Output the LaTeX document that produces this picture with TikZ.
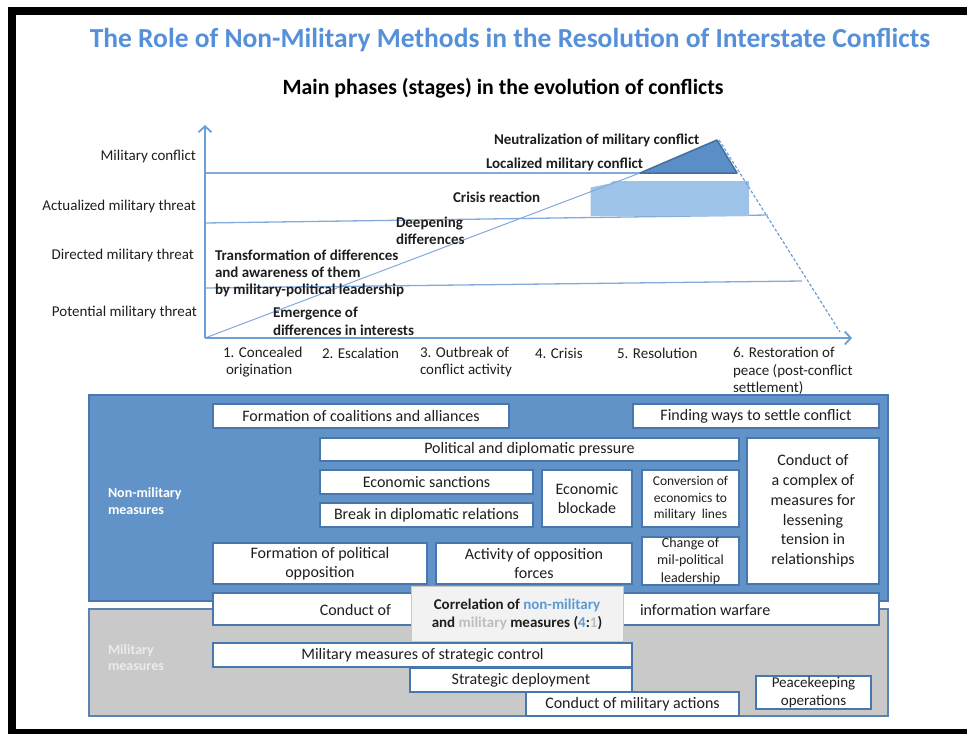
\documentclass[tikz,border=0pt]{standalone}
\usepackage{fontspec}
\setmainfont{Carlito}
\usetikzlibrary{arrows.meta}
\definecolor{titleblue}{HTML}{5590D8}
\definecolor{axisblue}{HTML}{6E9ED6}
\definecolor{lineblue}{HTML}{82AADB}
\definecolor{trifill}{HTML}{5B8EC6}
\definecolor{tridraw}{HTML}{41709F}
\definecolor{lightbox}{HTML}{9EC3E8}
\definecolor{nmfill}{HTML}{6193C9}
\definecolor{nmborder}{HTML}{4A78AE}
\definecolor{mfill}{HTML}{C9C9C9}
\definecolor{mborder}{HTML}{5B83B1}
\definecolor{boxblue}{HTML}{4877AE}
\definecolor{corrfill}{HTML}{F2F2F2}
\definecolor{corrborder}{HTML}{C8C8C8}
\definecolor{nmtext}{HTML}{5B9BD5}
\definecolor{mtext}{HTML}{BDBDBD}
\definecolor{txt}{HTML}{1E1E1E}
\tikzset{
  ylab/.style={anchor=east, font=\fontsize{15}{18}\selectfont, text=txt},
  clab/.style={anchor=west, align=left, font=\bfseries\fontsize{15}{17.4}\selectfont, text=txt},
  xlab/.style={anchor=west, align=left, font=\fontsize{15}{17.5}\selectfont, text=txt},
  hline/.style={draw=lineblue, line width=1.3pt},
  axisline/.style={draw=axisblue, line width=1.8pt},
  wbox/.style={draw=boxblue, line width=2pt, fill=white, align=center, font=\fontsize{16}{19.5}\selectfont, text=txt},
  biglab/.style={anchor=west, align=left, font=\bfseries\fontsize{14}{16.3}\selectfont},
  plain/.style={font=\fontsize{16}{19.5}\selectfont, text=txt}
}
\begin{document}
\begin{tikzpicture}[x=1pt,y=-1pt, every node/.style={inner sep=0pt, outer sep=0pt}]
\useasboundingbox (0,0) rectangle (967,734);
% frame
\fill[black] (8,7) rectangle (967,15);
\fill[black] (8,7) rectangle (16,734);
\fill[black] (8,729) rectangle (967,734);
% titles
\node[font=\bfseries\fontsize{27.5}{31}\selectfont, text=titleblue] (title) at (510,40) {The Role of Non-Military Methods in the Resolution of Interstate Conflicts};
\node[font=\bfseries\fontsize{21.8}{25}\selectfont, text=black] (sub) at (503,88) {Main phases (stages) in the evolution of conflicts};
% chart
\coordinate (O) at (205,338);
\coordinate (ytip) at (205,125);
\coordinate (xtip) at (852,338);
\coordinate (tl) at (640,173);
\coordinate (apex) at (717,140);
\coordinate (tr) at (737,173);
\draw[hline] (205,173) -- (tl);
\draw[hline] (205,223) -- (768,215);
\draw[hline] (205,288) -- (802,281);
\fill[lightbox] (590.5,216) -- (590.5,187.5) -- (610,183.5) -- (613,181) -- (749,181) -- (749,216) -- cycle;
\draw[draw=lineblue, line width=1pt] (O) -- (tl);
\filldraw[fill=trifill, draw=tridraw, line width=1.5pt, line join=round] (tl) -- (apex) -- (tr) -- cycle;
\draw[draw=axisblue, line width=1.2pt, dash pattern=on 3pt off 2pt] (719,140) -- (840,332);
\draw[axisline, -{Straight Barb[length=6pt,width=13pt]}] (O) -- (ytip);
\draw[axisline, -{Straight Barb[length=6pt,width=13pt]}] (O) -- (xtip);
% y labels
\node[ylab] (y1) at (196,156.5) {Military conflict};
\node[ylab] (y2) at (196,206) {Actualized military threat};
\node[ylab] (y3) at (194,255) {Directed military threat};
\node[ylab] (y4) at (197,312.5) {Potential military threat};
% chart labels
\node[clab] (c1) at (215,273.5) {Transformation of differences\\and awareness of them\\by military-political leadership};
\node[clab] (c2) at (273,321.5) {Emergence of\\differences in interests};
\node[clab] (c3) at (396,231) {Deepening\\differences};
\node[clab] (c4) at (453,197.5) {Crisis reaction};
\node[clab] (c5) at (486,164.5) {Localized military conflict};
\node[clab] (c6) at (494,140) {Neutralization of military conflict};
% x labels
\node[xlab] (x1) at (223,362) {1. Concealed\\\hspace*{3pt}origination};
\node[xlab] (x2) at (322,353.5) {2. Escalation};
\node[xlab] (x3) at (420,362) {3. Outbreak of\\conflict activity};
\node[xlab] (x4) at (535,353.5) {4. Crisis};
\node[xlab] (x5) at (617,353.5) {5. Resolution};
\node[xlab] (x6) at (733,371) {6. Restoration of\\peace (post-conflict\\settlement)};
% big areas
\node[draw=nmborder, line width=1.5pt, fill=nmfill, minimum width=799, minimum height=206] (nm) at (488.5,498) {};
\node[draw=mborder, line width=2pt, fill=mfill, minimum width=799, minimum height=107] (mil) at (488.5,662.5) {};
\node[biglab, text=white] (nmlab) at (108,501) {Non-military\\measures};
\node[biglab, text=white!92!black] (mlab) at (108,657.5) {Military\\measures};
% white boxes
\node[wbox, minimum width=296, minimum height=24] (coal) at (361,416) {Formation of coalitions and alliances};
\node[wbox, minimum width=246, minimum height=24] (find) at (756,416) {Finding ways to settle conflict};
\node[wbox, minimum width=419, minimum height=23] (pol) at (529.5,449.5) {Political and diplomatic pressure};
\node[wbox, minimum width=132, minimum height=146, font=\fontsize{16}{19.8}\selectfont] (cplx) at (813,511) {Conduct of\\a complex of\\measures for\\lessening\\tension in\\relationships};
\node[wbox, minimum width=213, minimum height=24] (econs) at (426.5,482) {Economic sanctions};
\node[wbox, minimum width=213, minimum height=24] (brk) at (426.5,515) {Break in diplomatic relations};
\node[wbox, minimum width=90, minimum height=57] (blk) at (587,498.5) {Economic\\blockade};
\node[wbox, minimum width=97, minimum height=57, font=\fontsize{13.5}{16.7}\selectfont] (conv) at (690.5,498.5) {Conversion of\\economics to\\military\ \ lines};
\node[wbox, minimum width=97, minimum height=48, font=\fontsize{14}{17.3}\selectfont] (chg) at (690.5,561) {Change of\\mil-political\\leadership};
\node[wbox, minimum width=214, minimum height=41] (fpo) at (320,563.5) {Formation of political\\opposition};
\node[wbox, minimum width=196, minimum height=41] (act) at (534,563.5) {Activity of opposition\\forces};
\node[wbox, minimum width=666, minimum height=32] (cinfo) at (546,609) {};
\node[plain, anchor=east] (condof) at (391,610) {Conduct of};
\node[plain, anchor=west] (infow) at (640,610) {information warfare};
\node[wbox, minimum width=419, minimum height=24] (msc) at (422.5,655) {Military measures of strategic control};
\node[wbox, minimum width=222, minimum height=24] (sdep) at (521,680) {Strategic deployment};
\node[wbox, minimum width=213, minimum height=24] (cma) at (632.5,704) {Conduct of military actions};
\node[wbox, minimum width=115, minimum height=33, font=\fontsize{15}{17.7}\selectfont] (peace) at (813.5,692.5) {Peacekeeping\\operations};
% correlation
\node[draw=corrborder, line width=1pt, fill=corrfill, minimum width=212, minimum height=55, align=center, font=\bfseries\fontsize{15}{18}\selectfont, text=txt] (corr) at (517,614) {Correlation of \textcolor{nmtext}{non-military}\\and \textcolor{mtext}{military} measures (\textcolor{nmtext}{4}:\textcolor{mtext}{1})};
\end{tikzpicture}
\end{document}
